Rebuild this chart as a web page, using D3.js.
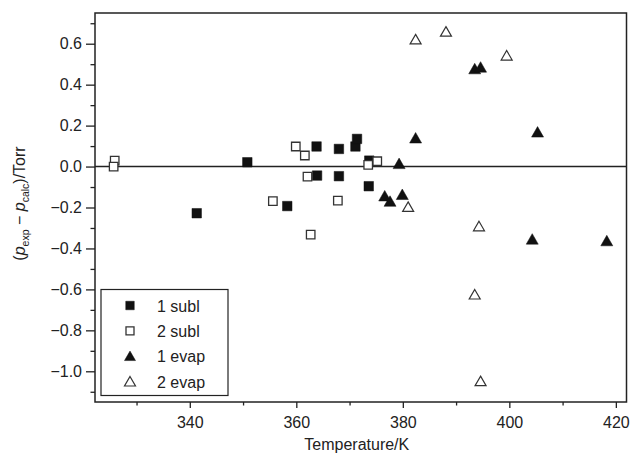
<!DOCTYPE html>
<html>
<head>
<meta charset="utf-8">
<script src="https://d3js.org/d3.v7.min.js"></script>
<style>
body { margin: 0; background: #fff; }
svg { display: block; font-family: "Liberation Sans", Arial, sans-serif; }
.axis path { display: none; }
.axis line { stroke: #222; stroke-width: 1.3; }
.axis text { font-size: 16px; fill: #222; }
</style>
</head>
<body>
<div id="chart"></div>
<script>
// temperatures (K) and deviations (Torr) per series
var subl1T = [341.3, 350.8, 358.3, 363.8, 363.9, 368.0, 368.0, 371.1, 371.4, 373.7, 373.6];
var subl1V = [-0.228, 0.021, -0.193, 0.098, -0.044, 0.086, -0.047, 0.098, 0.135, 0.029, -0.096];

var subl2T = [325.9, 325.7, 355.6, 359.9, 361.6, 362.1, 362.7, 367.8, 373.5, 375.2];
var subl2V = [0.029, 0.0, -0.169, 0.098, 0.054, -0.049, -0.332, -0.166, 0.008, 0.026];

var evap1T = [376.6, 377.6, 379.3, 379.9, 382.4, 393.5, 394.6, 405.3, 404.3, 418.3];
var evap1V = [-0.145, -0.171, 0.013, -0.138, 0.138, 0.476, 0.484, 0.167, -0.356, -0.364];

var evap2T = [381.0, 382.4, 388.1, 399.5, 394.3, 393.5, 394.6];
var evap2V = [-0.198, 0.62, 0.658, 0.541, -0.293, -0.626, -1.049];

var seriesNames = ["1 subl", "2 subl", "1 evap", "2 evap"];
var xMajor = [340, 360, 380, 400, 420];
var xMinor = [330, 350, 370, 390, 410];
var yMajor = [-1.0, -0.8, -0.6, -0.4, -0.2, 0.0, 0.2, 0.4, 0.6];
var yMinor = [-1.1, -0.9, -0.7, -0.5, -0.3, -0.1, 0.1, 0.3, 0.5, 0.7];

var W = 630, H = 461;
var margin = {top: 13, right: 3.5, bottom: 59, left: 95};
var width = W - margin.left - margin.right,
    height = H - margin.top - margin.bottom;

var svg = d3.select("#chart").append("svg")
    .attr("width", W).attr("height", H);

var x = d3.scaleLinear().domain([322.2, 422]).range([0, width]);
var y = d3.scaleLinear().domain([-1.15, 0.75]).range([height, 0]);

var g = svg.append("g")
    .attr("transform", "translate(" + margin.left + "," + margin.top + ")");

// axes: major + minor ticks, outward
g.append("g").attr("class", "axis")
    .attr("transform", "translate(0," + height + ")")
    .call(d3.axisBottom(x).tickValues(xMajor).tickSize(6).tickPadding(9).tickFormat(d3.format("d")));
g.append("g").attr("class", "axis")
    .attr("transform", "translate(0," + height + ")")
    .call(d3.axisBottom(x).tickValues(xMinor).tickSize(3.5).tickFormat(""));
g.append("g").attr("class", "axis")
    .call(d3.axisLeft(y).tickValues(yMajor).tickSize(9).tickPadding(4).tickFormat(d3.format(".1f")));
g.append("g").attr("class", "axis")
    .call(d3.axisLeft(y).tickValues(yMinor).tickSize(4.5).tickFormat(""));

// frame
g.append("rect")
    .attr("width", width).attr("height", height)
    .attr("fill", "none").attr("stroke", "#222").attr("stroke-width", 1.5);

// zero line
g.append("line")
    .attr("x1", 0).attr("x2", width)
    .attr("y1", y(0)).attr("y2", y(0))
    .attr("stroke", "#222").attr("stroke-width", 1.5);

function square(s) {
  var h = s / 2;
  return "M" + (-h) + "," + (-h) + "H" + h + "V" + h + "H" + (-h) + "Z";
}
function triangle(w, ht) {
  return "M0," + (-ht * 0.55) + "L" + (w / 2) + "," + (ht * 0.45) + "L" + (-w / 2) + "," + (ht * 0.45) + "Z";
}

var styles = [
  {shape: square(9.5), fill: "#111", stroke: "#111", sw: 0.5},
  {shape: square(8.5), fill: "#fff", stroke: "#333", sw: 1.3},
  {shape: triangle(12, 10.5), fill: "#111", stroke: "#111", sw: 0.5},
  {shape: triangle(11, 9.5), fill: "#fff", stroke: "#333", sw: 1.2}
];

var series = [
  {T: subl1T, V: subl1V},
  {T: subl2T, V: subl2V},
  {T: evap1T, V: evap1V},
  {T: evap2T, V: evap2V}
];

series.forEach(function(s, i) {
  var pts = s.T.map(function(t, k) { return [t, s.V[k]]; });
  g.selectAll(".pt" + i)
    .data(pts)
    .enter().append("path")
      .attr("class", "pt" + i)
      .attr("d", styles[i].shape)
      .attr("transform", function(d) { return "translate(" + x(d[0]) + "," + y(d[1]) + ")"; })
      .attr("fill", styles[i].fill)
      .attr("stroke", styles[i].stroke)
      .attr("stroke-width", styles[i].sw);
});

// legend
var leg = svg.append("g").attr("transform", "translate(101,289.5)");
leg.append("rect")
    .attr("width", 127).attr("height", 106)
    .attr("fill", "#fff").attr("stroke", "#222").attr("stroke-width", 1.2);
seriesNames.forEach(function(name, i) {
  var cy = 16 + i * 25.4;
  leg.append("path")
      .attr("d", i < 2 ? square(i == 0 ? 8.5 : 8) : triangle(11, 9.5))
      .attr("transform", "translate(29," + cy + ")")
      .attr("fill", styles[i].fill)
      .attr("stroke", styles[i].stroke)
      .attr("stroke-width", styles[i].sw);
  leg.append("text")
      .attr("x", 56).attr("y", cy + 6)
      .attr("font-size", 16).attr("fill", "#222")
      .text(name);
});

// axis titles
svg.append("text")
    .attr("x", margin.left + width / 2 - 4).attr("y", 450)
    .attr("text-anchor", "middle")
    .attr("font-size", 16).attr("fill", "#222")
    .text("Temperature/K");

var yl = svg.append("text")
    .attr("transform", "translate(25," + (margin.top + height / 2 - 4) + ") rotate(-90)")
    .attr("text-anchor", "middle")
    .attr("font-size", 16).attr("fill", "#222");
yl.append("tspan").text("(");
yl.append("tspan").attr("font-style", "italic").text("p");
yl.append("tspan").attr("font-size", 10.5).attr("dy", 4).text("exp");
yl.append("tspan").attr("dy", -4).text(" \u2212 ");
yl.append("tspan").attr("font-style", "italic").text("p");
yl.append("tspan").attr("font-size", 10.5).attr("dy", 4).text("calc");
yl.append("tspan").attr("dy", -4).text(")/Torr");
</script>
</body>
</html>
